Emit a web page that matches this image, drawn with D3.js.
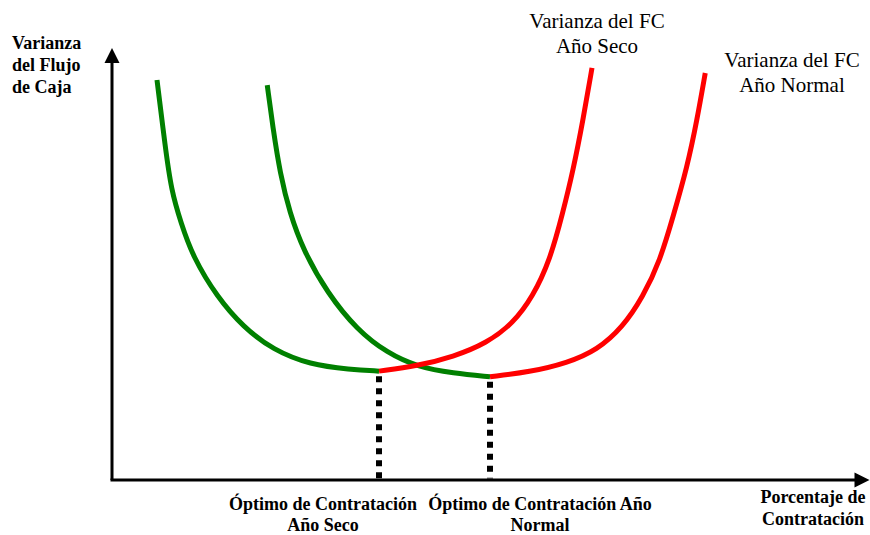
<!DOCTYPE html>
<html>
<head>
<meta charset="utf-8">
<script src="https://cdn.jsdelivr.net/npm/d3@7"></script>
<style>
  html, body { margin: 0; padding: 0; background: #fff; }
  svg { display: block; }
  text { font-family: "Liberation Serif", "Times New Roman", serif; fill: #000; }
</style>
</head>
<body>
<svg id="chart" width="870" height="535"></svg>
<script>
// Porcentaje de contratación (x) vs. varianza del flujo de caja (y), arbitrary units 0–100

// Año Seco: descending branch (green) then ascending branch (red)
const secoBajada = [
  [6.0, 92.6], [7.1, 77.1], [7.9, 67.1], [9.2, 59.5], [10.8, 51.6], [14.0, 42.4],
  [17.5, 35.4], [21.5, 30.1], [26.4, 26.7], [31.7, 25.6], [35.6, 25.2]
];
const secoSubida = [
  [35.6, 25.2], [40.7, 26.4], [45.5, 28.5], [50.0, 31.7], [53.5, 36.3], [56.1, 42.4],
  [58.4, 50.9], [60.1, 61.8], [61.5, 71.8], [62.8, 83.3], [64.0, 95.4]
];

// Año Normal: descending branch (green) then ascending branch (red)
const normalBajada = [
  [20.7, 91.4], [21.5, 81.0], [22.4, 71.1], [23.7, 61.8], [25.5, 53.2], [28.7, 43.3],
  [32.7, 34.7], [36.7, 29.4], [40.7, 26.2], [45.5, 24.7], [50.4, 23.9]
];
const normalSubida = [
  [50.4, 23.9], [55.7, 25.0], [60.7, 27.1], [64.7, 30.1], [68.1, 35.4], [70.8, 42.4],
  [73.1, 50.9], [74.8, 60.9], [76.7, 72.5], [78.0, 83.3], [79.1, 94.2]
];

// Optimal contracting points (minimum variance)
const optimos = [
  { x: 35.6, y: 25.2 },
  { x: 50.4, y: 23.9 }
];

// Text labels
const etiquetaEjeY = ["Varianza", "del Flujo", "de Caja"];
const etiquetaEjeX = ["Porcentaje de", "Contratación"];
const etiquetaSeco = ["Varianza del FC", "Año Seco"];
const etiquetaNormal = ["Varianza del FC", "Año Normal"];
const etiquetaOptSeco = ["Óptimo de Contratación", "Año Seco"];
const etiquetaOptNormal = ["Óptimo de Contratación Año", "Normal"];

const svg = d3.select("#chart");

const x = d3.scaleLinear().domain([0, 101]).range([112, 869.5]);
const y = d3.scaleLinear().domain([0, 100]).range([480, 48]);

const GREEN = "#008000";
const RED = "#ff0000";

// Axes with arrowheads
const axisG = svg.append("g");
const arrowLen = 15, arrowHalf = 7.5;
axisG.append("line")
  .attr("x1", x(0)).attr("y1", y(0))
  .attr("x2", x(0)).attr("y2", y(100) + arrowLen - 1)
  .attr("stroke", "#000").attr("stroke-width", 3);
axisG.append("path")
  .attr("d", `M${x(0)},${y(100)} L${x(0) - arrowHalf},${y(100) + arrowLen} L${x(0) + arrowHalf},${y(100) + arrowLen} Z`)
  .attr("fill", "#000");
axisG.append("line")
  .attr("x1", x(0) - 1.5).attr("y1", y(0))
  .attr("x2", x(101) - arrowLen + 1).attr("y2", y(0))
  .attr("stroke", "#000").attr("stroke-width", 3);
axisG.append("path")
  .attr("d", `M${x(101)},${y(0)} L${x(101) - arrowLen},${y(0) - arrowHalf} L${x(101) - arrowLen},${y(0) + arrowHalf} Z`)
  .attr("fill", "#000");

// Dotted drop lines from each optimum to the x axis
svg.append("g").selectAll("line")
  .data(optimos)
  .join("line")
  .attr("x1", d => x(d.x)).attr("x2", d => x(d.x))
  .attr("y1", d => y(d.y) + 5).attr("y2", y(0) - 1.5)
  .attr("stroke", "#000")
  .attr("stroke-width", 6)
  .attr("stroke-dasharray", "6,6");

// Variance curves (smoothed through the sampled points)
const line = d3.line()
  .x(d => x(d[0]))
  .y(d => y(d[1]))
  .curve(d3.curveBasis);

const tramos = [
  { data: secoBajada, color: GREEN },
  { data: normalBajada, color: GREEN },
  { data: secoSubida, color: RED },
  { data: normalSubida, color: RED }
];
svg.append("g").selectAll("path")
  .data(tramos)
  .join("path")
  .attr("d", d => line(d.data))
  .attr("fill", "none")
  .attr("stroke", d => d.color)
  .attr("stroke-width", 5)
  .attr("stroke-linecap", "butt");

// Multi-line text helper
function bloque(lines, cx, y0, dy, opts) {
  const t = svg.append("text")
    .attr("x", cx)
    .attr("y", y0)
    .attr("text-anchor", opts.anchor || "middle")
    .attr("font-size", opts.size)
    .attr("font-weight", opts.bold ? "bold" : "normal");
  lines.forEach((s, i) => {
    t.append("tspan").attr("x", cx).attr("y", y0 + i * dy).text(s);
  });
}

bloque(etiquetaEjeY, 12, 49, 22, { size: 18, bold: true, anchor: "start" });
bloque(etiquetaEjeX, 813, 503, 22, { size: 18, bold: true });
bloque(etiquetaSeco, 597, 28, 25, { size: 21 });
bloque(etiquetaNormal, 792, 67, 25, { size: 21 });
bloque(etiquetaOptSeco, 323, 510, 21, { size: 18, bold: true });
bloque(etiquetaOptNormal, 540, 510, 21, { size: 18, bold: true });
</script>
</body>
</html>
